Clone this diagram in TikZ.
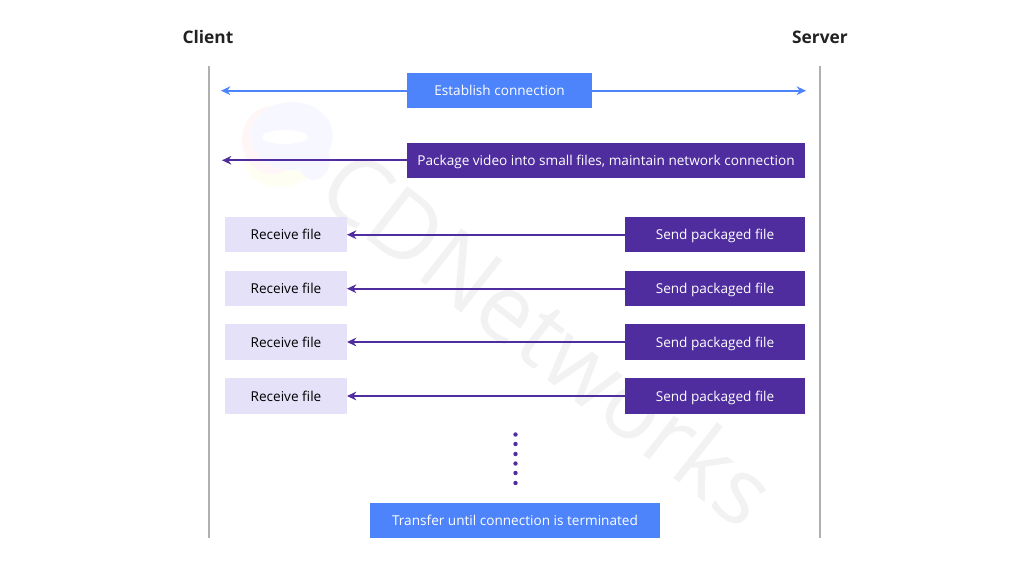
\documentclass[tikz,border=0pt]{standalone}
\usepackage{fontspec}
\setmainfont{Open Sans}
\usetikzlibrary{arrows.meta}
\definecolor{bluebox}{HTML}{4D84FB}
\definecolor{purplebox}{HTML}{4F2D9E}
\definecolor{palebox}{HTML}{E4E1F9}
\definecolor{lifeline}{HTML}{B0B0B0}
\definecolor{textdark}{HTML}{222222}
\tikzset{
  every node/.style={inner sep=0pt, outer sep=0pt, font=\fontsize{10.2pt}{12pt}\selectfont, text height=9pt, text depth=1.5pt},
  bluenode/.style={fill=bluebox, text=white, minimum height=26.5pt},
  purplenode/.style={fill=purplebox, text=white, minimum height=26.5pt},
  palenode/.style={fill=palebox, text=black, minimum height=26.5pt, minimum width=91.5pt},
  sendnode/.style={purplenode, minimum width=135pt},
  bluearrow/.style={draw=bluebox, line width=1.4pt, -{Stealth[length=7pt,width=6.5pt]}},
  purplearrow/.style={draw=purplebox, line width=1.4pt, -{Stealth[length=7pt,width=6.5pt]}},
  titlenode/.style={text=textdark, font=\fontsize{13pt}{15pt}\selectfont\bfseries, text height=10pt, text depth=0pt}
}
\begin{document}
\begin{tikzpicture}[x=0.75pt,y=-0.75pt]
  \useasboundingbox (0,0) rectangle (1024,567);
  \def\clientx{209}
  \def\serverx{820}

  % Watermark
  \node[text=black!5, rotate=-38, font=\fontsize{70pt}{72pt}\selectfont, text height=50pt, text depth=0pt] (mark) at (548,338) {CDNetworks};
  \fill[yellow!5] (280,160) ellipse (36 and 27);
  \fill[red!3] (272,140) ellipse (30 and 34);
  \fill[blue!3] (292,136) ellipse (41 and 34);
  \fill[blue!3] (314,160) ellipse (16 and 20);
  \fill[white] (285,137) ellipse (23 and 7);

  % Titles and lifelines
  \node[titlenode] (client) at (208,37) {Client};
  \node[titlenode] (server) at (820,37) {Server};
  \coordinate (clienttop) at (\clientx,66);
  \coordinate (clientend) at (\clientx,538);
  \coordinate (servertop) at (\serverx,66);
  \coordinate (serverend) at (\serverx,538);
  \draw[lifeline, line width=1.5pt] (clienttop) -- (clientend);
  \draw[lifeline, line width=1.5pt] (servertop) -- (serverend);

  % Establish connection
  \node[bluenode, minimum width=138.75pt] (establish) at (499.5,90.7) {Establish connection};
  \coordinate (estleft) at (221,90.7);
  \coordinate (estright) at (806,90.7);
  \draw[bluearrow] (establish) -- (estleft);
  \draw[bluearrow] (establish) -- (estright);

  % Package video
  \node[purplenode, minimum width=298.5pt] (package) at (606,160.3) {Package video into small files, maintain network connection};
  \coordinate (pkgleft) at (222,160.3);
  \draw[purplearrow] (package) -- (pkgleft);

  % File rows
  \foreach \i/\y in {1/234.7,2/288.7,3/342,4/396}{
    \node[palenode] (receive\i) at (286,\y) {Receive file};
    \node[sendnode] (send\i) at (715,\y) {Send packaged file};
    \draw[purplearrow] (send\i) -- (receive\i);
  }

  % Dots
  \foreach \y in {434.5,444,454,463.5,473,483}
    \fill[purplebox] (515.5,\y) circle (2.2);

  % Transfer
  \node[bluenode, minimum width=217.5pt] (transfer) at (515,520.5) {Transfer until connection is terminated};
\end{tikzpicture}
\end{document}
